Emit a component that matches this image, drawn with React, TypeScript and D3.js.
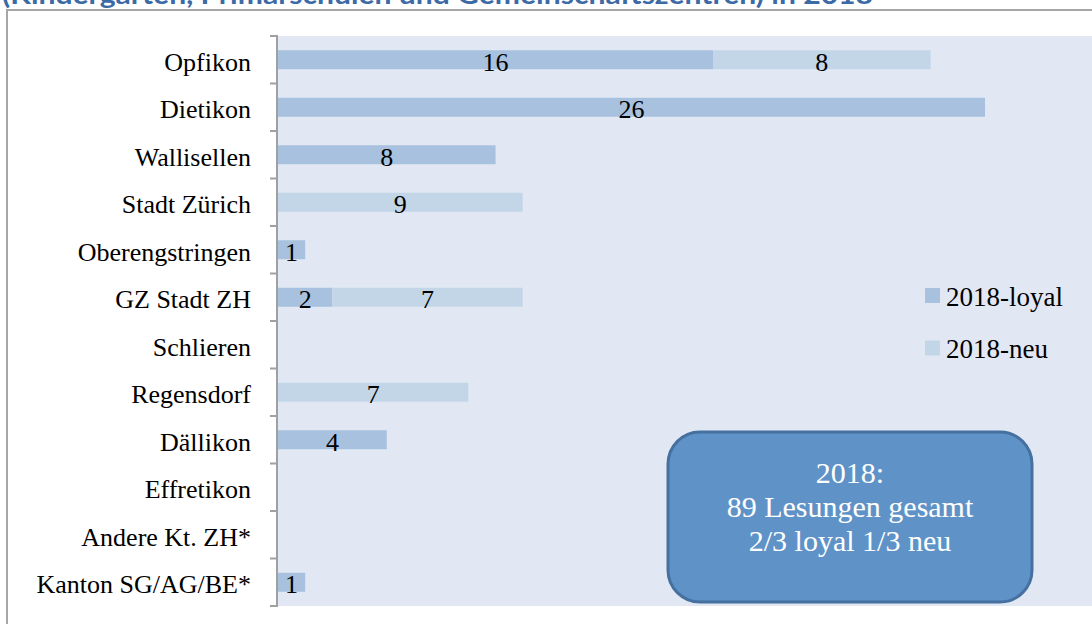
import React from "react";
import * as d3 from "d3";

const categories = [
  "Opfikon",
  "Dietikon",
  "Wallisellen",
  "Stadt Zürich",
  "Oberengstringen",
  "GZ Stadt ZH",
  "Schlieren",
  "Regensdorf",
  "Dällikon",
  "Effretikon",
  "Andere Kt. ZH*",
  "Kanton SG/AG/BE*",
];
const loyal = [16, 26, 8, 0, 1, 2, 0, 0, 4, 0, 0, 1];
const neu = [8, 0, 0, 9, 0, 7, 0, 7, 0, 0, 0, 0];
const seriesNames = ["2018-loyal", "2018-neu"];
const titleText = "(Kindergarten, Primarschulen und Gemeinschaftszentren) in 2018";
const noteLines = ["2018:", "89 Lesungen gesamt", "2/3 loyal 1/3 neu"];

const W = 1092;
const H = 624;
const colors = ["#A7C1DE", "#C2D6E8"];
const serif = "'Liberation Serif', 'Times New Roman', serif";

export default function App() {
  const plotLeft = 278;
  const plotTop = 36;
  const plotBottom = 606;
  const x = d3.scaleLinear().domain([0, 26]).range([plotLeft, 985]);
  const y = d3
    .scaleBand<string>()
    .domain(categories)
    .range([plotTop, plotBottom])
    .paddingInner(0)
    .paddingOuter(0);
  const bw = y.bandwidth();
  const barH = bw * 0.4;

  const segs: { cat: string; x0: number; x1: number; v: number; s: number }[] = [];
  categories.forEach((c, i) => {
    if (loyal[i] > 0) segs.push({ cat: c, x0: 0, x1: loyal[i], v: loyal[i], s: 0 });
    if (neu[i] > 0)
      segs.push({ cat: c, x0: loyal[i], x1: loyal[i] + neu[i], v: neu[i], s: 1 });
  });

  const ticks = d3.range(categories.length + 1).map((i) => plotTop + i * bw);

  return (
    <svg
      width={W}
      height={H}
      style={{ position: "absolute", left: 0, top: 0, background: "#fff" }}
    >
      <text
        x={2}
        y={4}
        fontFamily="Lato, 'Liberation Sans', sans-serif"
        fontWeight="bold"
        fontSize={26}
        fill="#3B6AA6"
        textLength={871}
        lengthAdjust="spacingAndGlyphs"
      >
        {titleText}
      </text>
      <line x1={7} x2={W} y1={10} y2={10} stroke="#A6A6A6" strokeWidth={2} />
      <line x1={7} x2={7} y1={9} y2={H} stroke="#A6A6A6" strokeWidth={2} />

      <rect
        x={plotLeft}
        y={plotTop}
        width={W - plotLeft}
        height={plotBottom - plotTop}
        fill="#E1E8F4"
      />

      {segs.map((d, i) => (
        <rect
          key={"b" + i}
          x={x(d.x0)}
          y={(y(d.cat) as number) + (bw - barH) / 2}
          width={x(d.x1) - x(d.x0)}
          height={barH}
          fill={colors[d.s]}
        />
      ))}
      {segs.map((d, i) => (
        <text
          key={"t" + i}
          x={(x(d.x0) + x(d.x1)) / 2}
          y={(y(d.cat) as number) + bw / 2}
          dy="0.42em"
          textAnchor="middle"
          fontFamily={serif}
          fontSize={26}
          fill="#000"
        >
          {d.v}
        </text>
      ))}

      <line
        x1={plotLeft - 1}
        x2={plotLeft - 1}
        y1={plotTop}
        y2={plotBottom}
        stroke="#A0A0A0"
        strokeWidth={2}
      />
      {ticks.map((t, i) => (
        <line
          key={"k" + i}
          x1={plotLeft - 8}
          x2={plotLeft}
          y1={t}
          y2={t}
          stroke="#A0A0A0"
          strokeWidth={2}
        />
      ))}
      {categories.map((c) => (
        <text
          key={c}
          x={251}
          y={(y(c) as number) + bw / 2}
          dy="0.42em"
          textAnchor="end"
          fontFamily={serif}
          fontSize={26}
          fill="#000"
        >
          {c}
        </text>
      ))}

      {seriesNames.map((n, i) => (
        <g key={n} transform={`translate(925, ${288 + i * 52.5})`}>
          <rect width={15} height={15} fill={colors[i]} />
          <text x={21} y={7.5} dy="0.38em" fontFamily={serif} fontSize={27} fill="#000">
            {n}
          </text>
        </g>
      ))}

      <rect
        x={668}
        y={432}
        width={364}
        height={170}
        rx={32}
        ry={32}
        fill="#5F93C8"
        stroke="#45709F"
        strokeWidth={3}
      />
      {noteLines.map((l, i) => (
        <text
          key={l}
          x={850}
          y={483 + i * 34}
          textAnchor="middle"
          fontFamily={serif}
          fontSize={30}
          fill="#fff"
        >
          {l}
        </text>
      ))}
    </svg>
  );
}
